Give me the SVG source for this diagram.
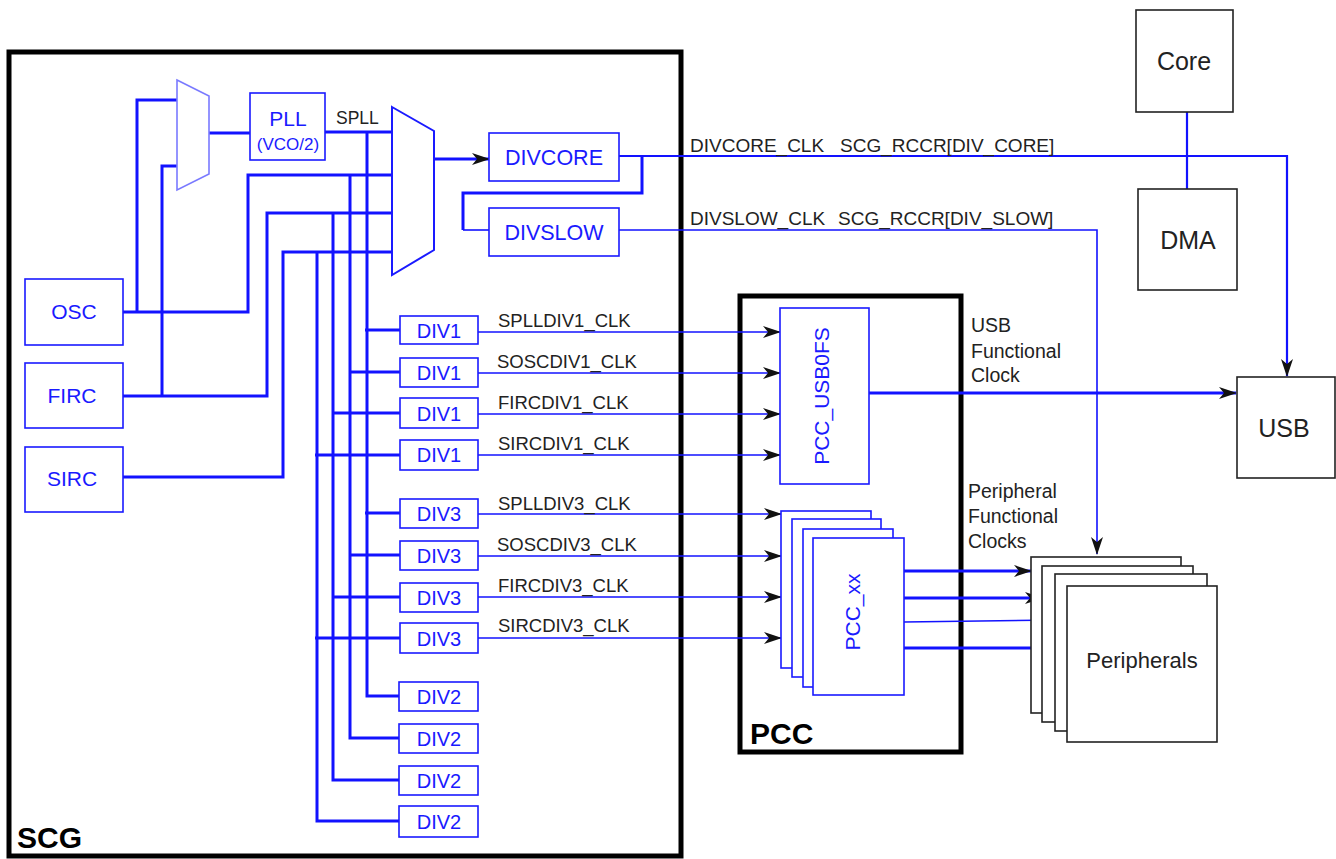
<svg xmlns="http://www.w3.org/2000/svg" width="1336" height="859" viewBox="0 0 1336 859">
<style>
  .frame{fill:none;stroke:#000;stroke-width:5}
  .bx{fill:#fff;stroke:#1a1aff;stroke-width:1.6}
  .kbx{fill:#fff;stroke:#222;stroke-width:1.6}
  .mux{fill:#fff;stroke:#1a1aff;stroke-width:2}
  .mux1{fill:#fff;stroke:#7a7aff;stroke-width:1.6}
  .bt{font-family:"Liberation Sans",Arial,sans-serif;fill:#1a1aff;text-anchor:middle}
  .kt{font-family:"Liberation Sans",Arial,sans-serif;fill:#222}
  .lbl{font-family:"Liberation Sans",Arial,sans-serif;fill:#222;font-size:18.5px}
  .lbl2{font-family:"Liberation Sans",Arial,sans-serif;fill:#222;font-size:19px}
  .ttl{font-family:"Liberation Sans",Arial,sans-serif;fill:#000;font-size:30px;font-weight:bold}
  .w{fill:none;stroke:#1212ff;stroke-width:3}
  .t{fill:none;stroke:#1212ff;stroke-width:1.6}
  .m{fill:none;stroke:#1212ff;stroke-width:2.2}
</style>
<defs>
  <marker id="ar" markerWidth="18" markerHeight="12" refX="17" refY="6" orient="auto" markerUnits="userSpaceOnUse">
    <path d="M0,0 L18,6 L0,12 L5,6 z" fill="#111"/>
  </marker>
</defs>
<rect width="1336" height="859" fill="#fff"/>

<!-- frames -->
<g id="scg">
  <rect class="frame" x="9" y="52" width="672" height="804"/>
  <text class="ttl" x="17" y="848">SCG</text>
</g>
<g id="pcc">
  <rect class="frame" x="740" y="296" width="221" height="456"/>
  <text class="ttl" x="750" y="744">PCC</text>
</g>

<!-- connectors -->
<g id="connectors">
  <path class="w" d="M123,312 H248 V175 H392"/>
  <path class="w" d="M137,312 V100 H177"/>
  <path class="w" d="M123,396 H267 V213 H392"/>
  <path class="w" d="M162,396 V166 H177"/>
  <path class="w" d="M123,477 H283 V252 H392"/>
  <path class="w" d="M209,133 H250"/>
  <path class="w" d="M325,132 H392"/>
  <path class="w" d="M367,132 V696 H400"/>
  <path class="w" d="M350,175 V738 H400"/>
  <path class="w" d="M333,213 V780 H400"/>
  <path class="w" d="M317,252 V821 H400"/>
  <path class="w" d="M365,330 H400 M349,372 H400 M332,413 H400 M315,455 H400"/>
  <path class="w" d="M365,513 H400 M349,555 H400 M332,597 H400 M315,638 H400"/>
  <path class="t" d="M478,332 H780" marker-end="url(#ar)"/>
  <path class="t" d="M478,373 H780" marker-end="url(#ar)"/>
  <path class="t" d="M478,414 H780" marker-end="url(#ar)"/>
  <path class="t" d="M478,455 H780" marker-end="url(#ar)"/>
  <path class="t" d="M478,514 H781" marker-end="url(#ar)"/>
  <path class="t" d="M478,556 H781" marker-end="url(#ar)"/>
  <path class="t" d="M478,597 H781" marker-end="url(#ar)"/>
  <path class="t" d="M478,638 H781" marker-end="url(#ar)"/>
  <path class="w" d="M434,159 H489" marker-end="url(#ar)"/>
  <path class="m" d="M619,156 H1287 V376" marker-end="url(#ar)"/>
  <path class="w" d="M642,156 V193 H463 V230"/>
  <path class="t" d="M463,230 H489"/>
  <path class="t" d="M619,230 H1097 V554" marker-end="url(#ar)"/>
  <path class="m" d="M1187,112 V189"/>
  <path class="w" d="M869,393 H1236" marker-end="url(#ar)"/>
  <path class="w" d="M904,571 H1031" marker-end="url(#ar)"/>
  <path class="w" d="M904,598 H1042" marker-end="url(#ar)"/>
  <path class="t" d="M904,622 L1055,620" marker-end="url(#ar)"/>
  <path class="w" d="M904,648 H1067" marker-end="url(#ar)"/>
</g>

<!-- labels -->
<g id="labels">
  <text class="kt" x="336" y="124" font-size="17.5">SPLL</text>
  <text class="lbl" x="498" y="327">SPLLDIV1_CLK</text>
  <text class="lbl" x="497" y="368">SOSCDIV1_CLK</text>
  <text class="lbl" x="498" y="409">FIRCDIV1_CLK</text>
  <text class="lbl" x="498" y="450">SIRCDIV1_CLK</text>
  <text class="lbl" x="498" y="510">SPLLDIV3_CLK</text>
  <text class="lbl" x="497" y="551">SOSCDIV3_CLK</text>
  <text class="lbl" x="498" y="592">FIRCDIV3_CLK</text>
  <text class="lbl" x="498" y="632">SIRCDIV3_CLK</text>
  <text class="lbl2" x="690" y="152">DIVCORE_CLK</text>
  <text class="lbl2" x="840" y="152">SCG_RCCR[DIV_CORE]</text>
  <text class="lbl2" x="690" y="225">DIVSLOW_CLK</text>
  <text class="lbl2" x="838" y="225">SCG_RCCR[DIV_SLOW]</text>
  <text class="kt" x="971" y="332" font-size="19.5">USB</text>
  <text class="kt" x="971" y="358" font-size="19.5">Functional</text>
  <text class="kt" x="971" y="382" font-size="19.5">Clock</text>
  <text class="kt" x="968" y="498" font-size="19.5">Peripheral</text>
  <text class="kt" x="968" y="523" font-size="19.5">Functional</text>
  <text class="kt" x="968" y="548" font-size="19.5">Clocks</text>
</g>

<!-- nodes -->
<g id="mux1"><polygon class="mux1" points="177,80 209,96 209,174 177,190"/></g>
<g id="mux2"><polygon class="mux" points="392,107 434,131 434,250 392,275"/></g>
<g id="pll">
  <rect class="bx" x="250" y="93" width="75" height="67"/>
  <text class="bt" x="288" y="126" font-size="21">PLL</text>
  <text class="bt" x="288" y="150" font-size="17">(VCO/2)</text>
</g>
<g id="osc"><rect class="bx" x="25" y="279" width="98" height="66"/><text class="bt" x="74" y="319" font-size="21">OSC</text></g>
<g id="firc"><rect class="bx" x="25" y="363" width="98" height="65"/><text class="bt" x="72" y="403" font-size="21">FIRC</text></g>
<g id="sirc"><rect class="bx" x="25" y="447" width="98" height="65"/><text class="bt" x="72" y="486" font-size="21">SIRC</text></g>
<g id="divcore"><rect class="bx" x="489" y="133" width="130" height="48"/><text class="bt" x="554" y="165" font-size="21.5">DIVCORE</text></g>
<g id="divslow"><rect class="bx" x="489" y="208" width="130" height="48"/><text class="bt" x="554" y="240" font-size="21.5">DIVSLOW</text></g>

<g id="div1a"><rect class="bx" x="400" y="316" width="78" height="28"/><text class="bt" x="439" y="338" font-size="20">DIV1</text></g>
<g id="div1b"><rect class="bx" x="400" y="358" width="78" height="29"/><text class="bt" x="439" y="380" font-size="20">DIV1</text></g>
<g id="div1c"><rect class="bx" x="400" y="398" width="78" height="30"/><text class="bt" x="439" y="421" font-size="20">DIV1</text></g>
<g id="div1d"><rect class="bx" x="400" y="440" width="78" height="30"/><text class="bt" x="439" y="462" font-size="20">DIV1</text></g>
<g id="div3a"><rect class="bx" x="400" y="499" width="78" height="29"/><text class="bt" x="439" y="521" font-size="20">DIV3</text></g>
<g id="div3b"><rect class="bx" x="400" y="541" width="78" height="29"/><text class="bt" x="439" y="563" font-size="20">DIV3</text></g>
<g id="div3c"><rect class="bx" x="400" y="583" width="78" height="29"/><text class="bt" x="439" y="605" font-size="20">DIV3</text></g>
<g id="div3d"><rect class="bx" x="400" y="623" width="78" height="30"/><text class="bt" x="439" y="646" font-size="20">DIV3</text></g>
<g id="div2a"><rect class="bx" x="399" y="682" width="79" height="29"/><text class="bt" x="439" y="704" font-size="20">DIV2</text></g>
<g id="div2b"><rect class="bx" x="399" y="724" width="79" height="29"/><text class="bt" x="439" y="746" font-size="20">DIV2</text></g>
<g id="div2c"><rect class="bx" x="399" y="766" width="79" height="29"/><text class="bt" x="439" y="788" font-size="20">DIV2</text></g>
<g id="div2d"><rect class="bx" x="399" y="806" width="79" height="31"/><text class="bt" x="439" y="829" font-size="20">DIV2</text></g>

<g id="pcc_usb0fs">
  <rect class="bx" x="780" y="308" width="89" height="176"/>
  <text class="bt" transform="translate(829,396) rotate(-90)" font-size="21">PCC_USB0FS</text>
</g>
<g id="pcc_xx">
  <rect class="bx" x="781" y="511" width="90" height="157"/>
  <rect class="bx" x="792" y="519" width="89" height="158"/>
  <rect class="bx" x="803" y="529" width="90" height="158"/>
  <rect class="bx" x="813" y="538" width="91" height="157"/>
  <text class="bt" transform="translate(860,612) rotate(-90)" font-size="21">PCC_xx</text>
</g>
<g id="core"><rect class="kbx" x="1136" y="10" width="97" height="102"/><text class="kt" x="1184" y="70" font-size="25" text-anchor="middle">Core</text></g>
<g id="dma"><rect class="kbx" x="1138" y="189" width="99" height="101"/><text class="kt" x="1188" y="249" font-size="25" text-anchor="middle">DMA</text></g>
<g id="usb"><rect class="kbx" x="1237" y="377" width="98" height="101"/><text class="kt" x="1284" y="437" font-size="25" text-anchor="middle">USB</text></g>
<g id="peripherals">
  <rect class="kbx" x="1031" y="557" width="150" height="156"/>
  <rect class="kbx" x="1042" y="566" width="151" height="156"/>
  <rect class="kbx" x="1055" y="574" width="152" height="157"/>
  <rect class="kbx" x="1067" y="586" width="150" height="156"/>
  <text class="kt" x="1142" y="668" font-size="22" text-anchor="middle">Peripherals</text>
</g>
</svg>
